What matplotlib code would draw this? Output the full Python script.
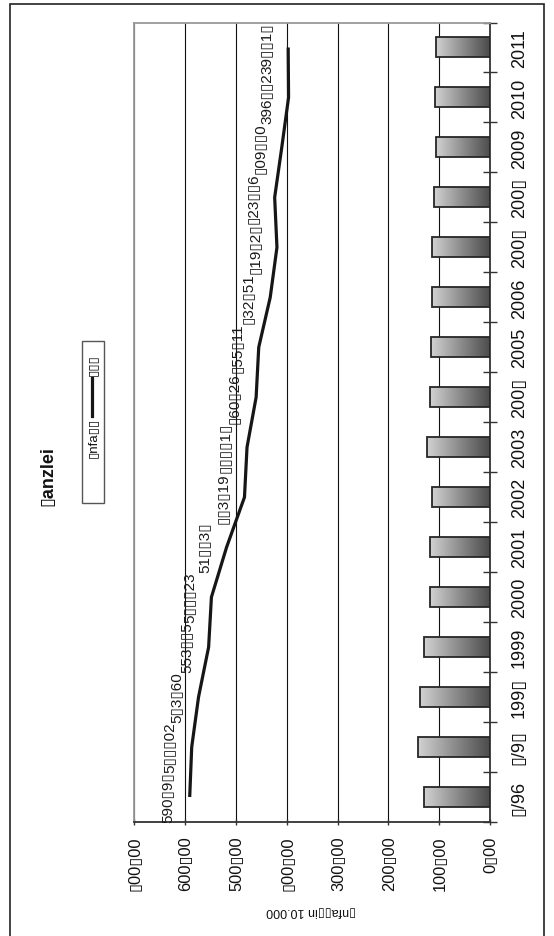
import numpy as np
import matplotlib
matplotlib.use("Agg")
import matplotlib.pyplot as plt
from matplotlib.patches import Rectangle
from matplotlib.lines import Line2D
from matplotlib.colors import LinearSegmentedColormap

plt.rcParams['font.family'] = ['Liberation Sans', 'DejaVu Sans']

# ---- data -------------------------------------------------------------
categories = ["▯/96", "▯/9▯", "199▯", "1999", "2000", "2001", "2002", "2003",
              "200▯", "2005", "2006", "200▯", "200▯", "2009", "2010", "2011"]
bar_values = [129, 142, 138, 130, 119, 118, 115, 123,
              118, 117, 115, 114, 111, 107, 109, 106]
line_values = [590.97, 587.02, 573.60, 553.75, 548.23, 518.37, 483.19, 478.17,
               460.26, 455.11, 432.51, 419.27, 423.76, 409.80, 396.42, 397.18]
value_ticks = [0, 100, 200, 300, 400, 500, 600, 700]
title_text = "▯anzlei"
bar_series_label = "▯nfa▯▯"
line_series_label = "▯▯▯"
value_axis_label = "▯nfa▯▯in 10.000"

# glyphs the original font could not show
MISSING = ",478"
BOX = "▯"


def tofu(s):
    return "".join(BOX if c in MISSING else c for c in s)


def fmt(v):
    return tofu(f"{v:.2f}".replace(".", ","))


W, H = 554, 937
fig = plt.figure(figsize=(W / 100, H / 100), dpi=100)
fig.patch.set_facecolor("white")


def fx(x):
    return x / W


def fy(y):
    return 1 - y / H


# outer chart frame
fig.add_artist(Rectangle((fx(10), -0.05), fx(544) - fx(10), fy(5) + 0.05,
                         transform=fig.transFigure, fill=False,
                         edgecolor="#222222", linewidth=1.2, clip_on=False))

# plot area (value axis runs right-to-left, categories bottom-to-top)
left, right, top, bottom = 134.3, 490.0, 23.5, 823.0
ax = fig.add_axes([fx(left), fy(bottom), fx(right) - fx(left), fy(top) - fy(bottom)])
ax.set_facecolor("white")

y = np.arange(len(categories))
grad_cmap = LinearSegmentedColormap.from_list("bar", ["#4a4a4a", "#8c8c8c", "#d2d2d2"])
grad = np.linspace(0, 1, 256).reshape(1, -1)

bars = ax.barh(y, bar_values, height=0.4, facecolor="none",
               edgecolor="#262626", linewidth=1.3, zorder=4)
for bar in bars:
    x0, y0 = bar.get_x(), bar.get_y()
    im = ax.imshow(grad, cmap=grad_cmap, aspect="auto", interpolation="bicubic",
                   extent=[x0, x0 + bar.get_width(), y0, y0 + bar.get_height()],
                   zorder=3)
    im.set_clip_path(bar)

ax.plot(line_values, y, color="#161616", linewidth=2.3, zorder=5,
        solid_joinstyle="round", solid_capstyle="butt")

for v, yi in zip(line_values, y):
    ax.annotate(fmt(v), (v, yi), xytext=(-15.8, 0), textcoords="offset points",
                rotation=90, ha="center", va="center", fontsize=11,
                color="#1a1a1a", zorder=6)

ax.set_xlim(700, 0)
ax.set_ylim(-0.5, len(categories) - 0.5)

ax.set_xticks(value_ticks)
ax.set_xticklabels([fmt(v) for v in value_ticks], rotation=90, fontsize=11.8)
ax.tick_params(axis="x", direction="inout", length=5, width=1.0,
               color="#333333", pad=7, labelcolor="#111111")

ax.yaxis.tick_right()
ax.set_yticks(y)
ax.set_yticklabels(categories, rotation=90, fontsize=13)
for t in ax.get_yticklabels():
    t.set_va("center")
    t.set_ha("left")
ax.set_yticks(np.arange(-0.5, len(categories), 1), minor=True)
ax.tick_params(axis="y", which="major", length=0, pad=15, labelcolor="#111111")
ax.tick_params(axis="y", which="minor", direction="inout", length=10,
               width=1.0, color="#333333", right=True, left=False)

ax.xaxis.grid(True, color="#111111", linewidth=0.8)
ax.set_axisbelow(True)

for side in ("left", "top"):
    ax.spines[side].set_color("#9a9a9a")
    ax.spines[side].set_linewidth(1.3)
for side in ("right", "bottom"):
    ax.spines[side].set_color("#333333")
    ax.spines[side].set_linewidth(1.3)

# title and value axis label
fig.text(fx(48), fy(476), title_text, rotation=90, fontsize=13,
         fontweight="bold", ha="center", va="center", color="#111111")
fig.text(fx(311), fy(912), value_axis_label, rotation=180, fontsize=9,
         ha="center", va="center", color="#111111")

# legend (drawn sideways to follow the chart's orientation)
fig.add_artist(Rectangle((fx(81.7), fy(504)), fx(104) - fx(81.7), fy(342) - fy(504),
                         transform=fig.transFigure, facecolor="white",
                         edgecolor="#555555", linewidth=1.0))
leg_ax = fig.add_axes([fx(88), fy(501), fx(97) - fx(88), fy(463) - fy(501)])
leg_ax.imshow(grad[:, ::-1], cmap=grad_cmap, aspect="auto", interpolation="bicubic")
leg_ax.set_xticks([])
leg_ax.set_yticks([])
for s in leg_ax.spines.values():
    s.set_color("#262626")
    s.set_linewidth(1.3)
fig.text(fx(93), fy(458), bar_series_label, rotation=90, fontsize=9.5,
         ha="center", va="bottom", color="#111111")
fig.add_artist(Line2D([fx(92), fx(92)], [fy(417), fy(379)], transform=fig.transFigure,
                      color="#161616", linewidth=2.3))
fig.text(fx(93), fy(376), line_series_label, rotation=90, fontsize=9.5,
         ha="center", va="bottom", color="#111111")

fig.savefig("out.png", dpi=100, facecolor="white")
